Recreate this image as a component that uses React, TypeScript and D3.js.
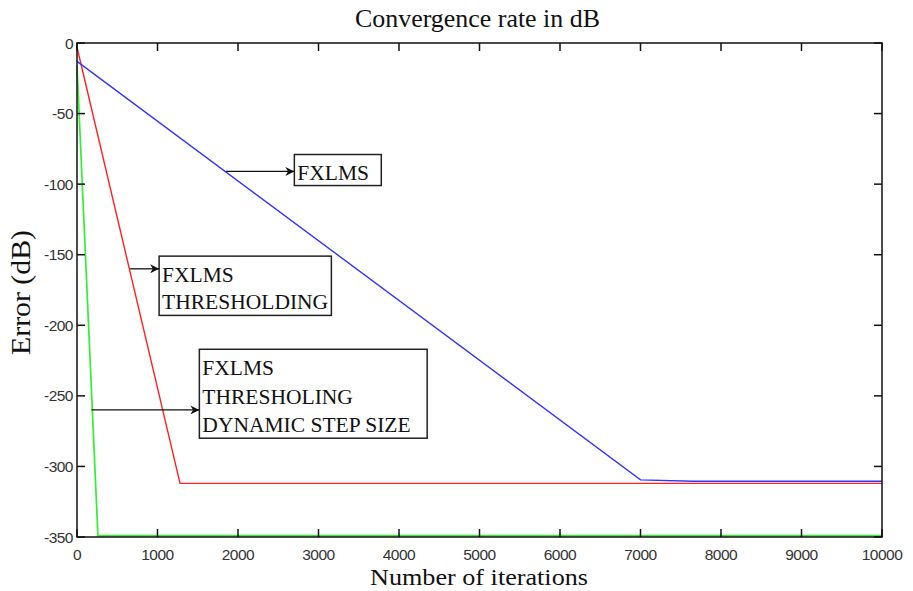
import React, { useRef, useEffect } from "react";
import * as d3 from "d3";

// curves: [iterations, error dB]
const fxlms: [number, number][] = [[0, -13], [7000, -309.5], [7650, -310.5], [10000, -310.5]];
const fxlmsThresh: [number, number][] = [[0, -3], [1280, -312], [10000, -312]];
const fxlmsDynamic: [number, number][] = [[0, -16], [260, -349], [10000, -349]];

const xTicks = [0, 1000, 2000, 3000, 4000, 5000, 6000, 7000, 8000, 9000, 10000];
const yTicks = [0, -50, -100, -150, -200, -250, -300, -350];

// annotation boxes: text lines, box corners (data units) and arrow tail
const notes = [
  { lines: ["FXLMS"], box: [2700, -79, 3780, -101], arrow: [1850, -91], first: 25, gap: 27 },
  { lines: ["FXLMS", "THRESHOLDING"], box: [1020, -151, 3160, -193], arrow: [660, -160], first: 26, gap: 27 },
  { lines: ["FXLMS", "THRESHOLING", "DYNAMIC STEP SIZE"], box: [1520, -217, 4350, -280], arrow: [180, -260], first: 26, gap: 28.5 },
];

export default function App() {
  const svgRef = useRef<SVGSVGElement>(null);
  const width = 913;
  const height = 591;

  useEffect(() => {
    const svg = d3.select(svgRef.current);
    svg.selectAll("*").remove();

    const x = d3.scaleLinear().domain([0, 10000]).range([77, 882]);
    const y = d3.scaleLinear().domain([-350, 0]).range([537, 43]);

    svg.append("rect").attr("width", width).attr("height", height).attr("fill", "white");

    svg
      .append("defs")
      .append("marker")
      .attr("id", "arr")
      .attr("viewBox", "0 0 10 10")
      .attr("refX", 10)
      .attr("refY", 5)
      .attr("markerWidth", 10)
      .attr("markerHeight", 9)
      .attr("markerUnits", "userSpaceOnUse")
      .attr("orient", "auto")
      .append("path")
      .attr("d", "M0,0 L10,5 L0,10 L3,5 Z")
      .attr("fill", "#111");

    const line = d3
      .line<[number, number]>()
      .x((d) => x(d[0]))
      .y((d) => y(d[1]));

    // curves
    svg.append("path").datum(fxlmsDynamic).attr("d", line).attr("fill", "none").attr("stroke", "#33ee33").attr("stroke-width", 1.7);
    svg.append("path").datum(fxlmsThresh).attr("d", line).attr("fill", "none").attr("stroke", "#ff2020").attr("stroke-width", 1.4);
    svg.append("path").datum(fxlms).attr("d", line).attr("fill", "none").attr("stroke", "#3333ff").attr("stroke-width", 1.4);

    // frame
    svg
      .append("rect")
      .attr("x", x(0))
      .attr("y", y(0))
      .attr("width", x(10000) - x(0))
      .attr("height", y(-350) - y(0))
      .attr("fill", "none")
      .attr("stroke", "#111")
      .attr("stroke-width", 1.5);

    // inward ticks on all four sides
    const tk = 8;
    const ticks = svg.append("g").attr("stroke", "#111").attr("stroke-width", 1.5);
    xTicks.forEach((t) => {
      ticks.append("line").attr("x1", x(t)).attr("x2", x(t)).attr("y1", y(-350)).attr("y2", y(-350) - tk);
      ticks.append("line").attr("x1", x(t)).attr("x2", x(t)).attr("y1", y(0)).attr("y2", y(0) + tk);
    });
    yTicks.forEach((t) => {
      ticks.append("line").attr("x1", x(0)).attr("x2", x(0) + tk).attr("y1", y(t)).attr("y2", y(t));
      ticks.append("line").attr("x1", x(10000)).attr("x2", x(10000) - tk).attr("y1", y(t)).attr("y2", y(t));
    });

    const tickFont = "Liberation Sans, Arial, sans-serif";
    svg
      .append("g")
      .selectAll("text")
      .data(xTicks)
      .join("text")
      .attr("x", (d) => x(d))
      .attr("y", 560)
      .attr("text-anchor", "middle")
      .attr("font-family", tickFont)
      .attr("font-size", 15.5)
      .attr("letter-spacing", -0.5)
      .attr("fill", "#333")
      .text((d) => String(d));
    svg
      .append("g")
      .selectAll("text")
      .data(yTicks)
      .join("text")
      .attr("x", 73)
      .attr("y", (d) => y(d) + 5.5)
      .attr("text-anchor", "end")
      .attr("font-family", tickFont)
      .attr("font-size", 15.5)
      .attr("letter-spacing", -0.5)
      .attr("fill", "#333")
      .text((d) => String(d));

    const serif = "Liberation Serif, Times New Roman, serif";
    svg
      .append("text")
      .attr("x", 355)
      .attr("y", 27)
      .attr("textLength", 245)
      .attr("lengthAdjust", "spacingAndGlyphs")
      .attr("font-family", serif)
      .attr("font-size", 25.5)
      .attr("fill", "#111")
      .text("Convergence rate in dB");
    svg
      .append("text")
      .attr("x", 370)
      .attr("y", 585)
      .attr("textLength", 218)
      .attr("lengthAdjust", "spacingAndGlyphs")
      .attr("font-family", serif)
      .attr("font-size", 24)
      .attr("fill", "#111")
      .text("Number of iterations");
    svg
      .append("text")
      .attr("transform", "translate(30,355) rotate(-90)")
      .attr("textLength", 125)
      .attr("lengthAdjust", "spacingAndGlyphs")
      .attr("font-family", serif)
      .attr("font-size", 28)
      .attr("fill", "#111")
      .text("Error (dB)");

    // annotations
    notes.forEach((n) => {
      const [bx0, by0, bx1, by1] = n.box;
      const left = x(bx0);
      const top = y(by0);
      const right = x(bx1);
      const bottom = y(by1);
      const ay = y(n.arrow[1]);
      svg
        .append("rect")
        .attr("x", left)
        .attr("y", top)
        .attr("width", right - left)
        .attr("height", bottom - top)
        .attr("fill", "white")
        .attr("stroke", "#222")
        .attr("stroke-width", 1.5);
      svg
        .append("line")
        .attr("x1", x(n.arrow[0]))
        .attr("x2", left)
        .attr("y1", ay)
        .attr("y2", ay)
        .attr("stroke", "#111")
        .attr("stroke-width", 1.3)
        .attr("marker-end", "url(#arr)");
      n.lines.forEach((s, i) => {
        svg
          .append("text")
          .attr("x", left + 3)
          .attr("y", top + n.first + i * n.gap)
          .attr("font-family", serif)
          .attr("font-size", 21.5)
          .attr("fill", "#111")
          .text(s);
      });
    });
  }, []);

  return (
    <svg
      ref={svgRef}
      width={width}
      height={height}
      style={{ position: "absolute", left: 0, top: 0 }}
    ></svg>
  );
}
